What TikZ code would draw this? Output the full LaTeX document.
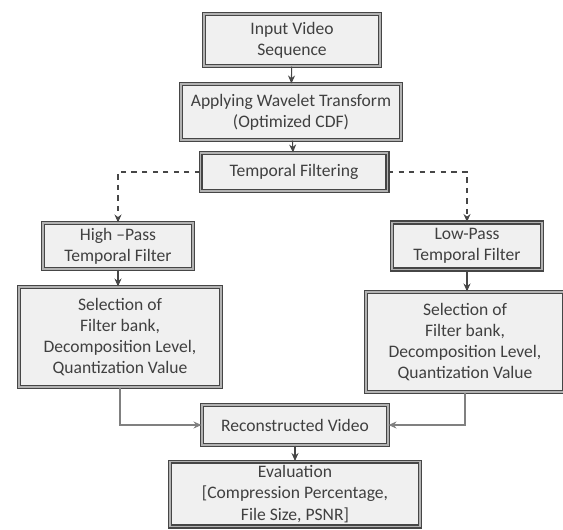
\documentclass[tikz,border=0pt]{standalone}
\usepackage{fontspec}
\setmainfont{Carlito}
\usetikzlibrary{arrows.meta,positioning}
\definecolor{boxfill}{RGB}{240,240,240}
\definecolor{boxline}{RGB}{70,70,70}
\definecolor{arrgray}{RGB}{70,70,70}

\begin{document}
\begin{tikzpicture}[x=0.02cm, y=-0.02cm,
  box/.style={draw=boxline, line width=0.6pt, double=gray!60, double distance=1.1pt, fill=boxfill, rectangle, inner sep=0pt, align=center, font=\fontsize{10}{12}\selectfont, text=black!75},
  arr/.style={-{Stealth[length=1.6mm,width=1.4mm]}, arrgray, semithick},
  dasharr/.style={arr, dashed}
]
\useasboundingbox (0,0) rectangle (563,529);
\node[box, minimum width=3.52cm, minimum height=1.04cm] (inp) at (292,40) {Input Video\\Sequence};
\node[box, minimum width=4.4cm, minimum height=1.12cm] (wav) at (291,112) {Applying Wavelet Transform\\(Optimized CDF)};
\node[box, minimum width=3.74cm, minimum height=0.76cm] (temp) at (294,172) {Temporal Filtering};
\node[box, minimum width=3cm, minimum height=0.92cm] (hp) at (118,246) {High --Pass\\Temporal Filter};
\node[box, minimum width=3cm, minimum height=0.94cm] (lp) at (467,246) {Low-Pass\\Temporal Filter};
\node[box, minimum width=4.04cm, minimum height=2cm] (selL) at (120,337) {Selection of\\Filter bank,\\Decomposition Level,\\Quantization Value};
\node[box, minimum width=3.96cm, minimum height=2cm] (selR) at (465,342) {Selection of\\Filter bank,\\Decomposition Level,\\Quantization Value};
\node[box, minimum width=3.72cm, minimum height=0.8cm] (rec) at (295,425) {Reconstructed Video};
\node[box, minimum width=5cm, minimum height=1.3cm] (eval) at (295,494) {Evaluation\\{}[Compression Percentage,\\File Size, PSNR]};

\draw[arr] (inp) -- (wav);
\draw[arr] (wav) -- (temp);
\draw[dasharr] (temp.west) -| (hp);
\draw[dasharr] (temp.east) -| (lp);
\draw[arr] (hp) -- (hp |- selL.north);
\draw[arr] (lp) -- (lp |- selR.north);
\draw[arr, gray] (selL) |- (rec);
\draw[arr, gray] (selR) |- (rec);
\draw[arr] (rec) -- (eval);
\end{tikzpicture}
\end{document}
